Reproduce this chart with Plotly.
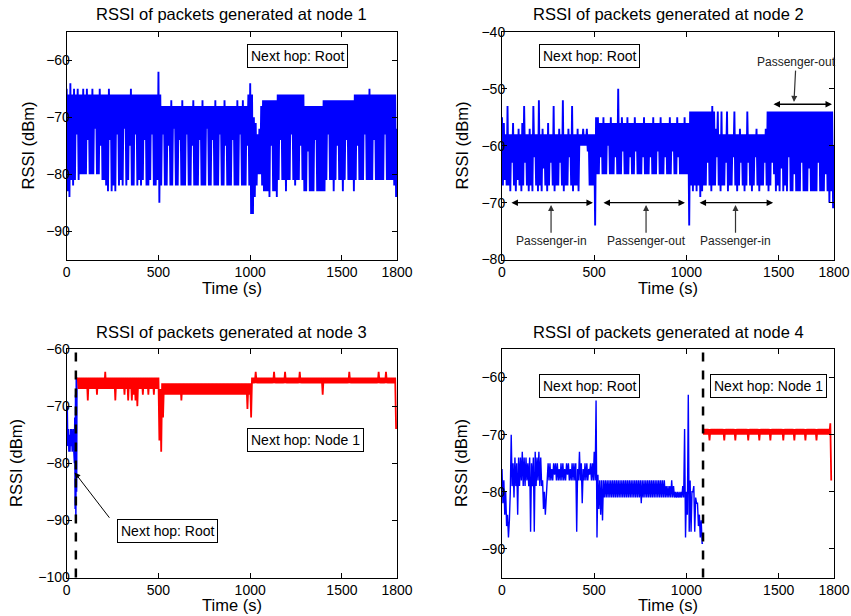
import plotly.graph_objects as go

FONT = "Liberation Sans, Arial, Helvetica, sans-serif"
BLUE = "#0000FF"
RED = "#FF0000"

# ---------------- data ----------------
# Each dense trace is given as, per 10-s bin, the upper reading (at t) and the
# lower reading (at t+5 s) -- the packets alternate between these levels.
bin_start_full = list(range(0, 1800, 10))          # 180 bins, node 1 & 2

node1_upper = [
    -65, -66, -64, -66, -65, -66, -65, -66, -66, -65,
    -66, -65, -66, -66, -65, -66, -66, -66, -65, -66,
    -66, -66, -66, -65, -66, -66, -66, -66, -66, -66,
    -66, -66, -66, -66, -66, -65, -66, -66, -66, -66,
    -66, -66, -66, -66, -66, -66, -66, -66, -66, -66,
    -62, -66, -68, -68, -68, -68, -68, -67, -68, -68,
    -68, -68, -68, -67, -68, -68, -68, -68, -68, -67,
    -68, -68, -68, -68, -67, -68, -68, -68, -68, -68,
    -68, -67, -68, -68, -68, -68, -67, -68, -68, -68,
    -68, -68, -68, -67, -68, -68, -67, -68, -68, -66,
    -64, -66, -70, -71, -73, -72, -68, -67, -67, -67,
    -67, -67, -67, -67, -67, -66, -66, -66, -66, -66,
    -66, -66, -66, -66, -66, -66, -66, -66, -66, -66,
    -68, -68, -68, -68, -68, -68, -68, -68, -68, -68,
    -67, -67, -67, -67, -67, -67, -67, -67, -67, -67,
    -67, -67, -67, -67, -67, -67, -67, -66, -66, -66,
    -66, -66, -66, -66, -66, -65, -66, -66, -66, -66,
    -66, -66, -66, -66, -66, -66, -66, -66, -66, -66,
]
node1_lower = [
    -83, -84, -81, -82, -81, -73, -81, -80, -80, -80,
    -80, -74, -80, -80, -80, -72, -80, -80, -75, -81,
    -81, -82, -83, -74, -83, -82, -83, -73, -82, -81,
    -82, -72, -82, -81, -75, -82, -82, -73, -82, -81,
    -82, -81, -74, -82, -82, -81, -73, -82, -82, -81,
    -85, -82, -73, -82, -82, -75, -82, -82, -72, -82,
    -82, -74, -82, -82, -82, -73, -82, -82, -75, -82,
    -82, -82, -74, -82, -82, -82, -72, -82, -82, -74,
    -82, -82, -82, -73, -82, -82, -75, -82, -82, -82,
    -74, -82, -82, -82, -73, -82, -82, -82, -75, -82,
    -87, -87, -84, -82, -80, -80, -82, -83, -83, -83,
    -84, -75, -83, -83, -84, -81, -74, -81, -81, -83,
    -81, -81, -73, -81, -82, -81, -81, -75, -81, -83,
    -83, -76, -83, -83, -83, -74, -83, -83, -83, -83,
    -83, -81, -73, -81, -81, -83, -81, -75, -81, -81,
    -83, -81, -74, -81, -81, -81, -83, -81, -75, -81,
    -81, -81, -73, -81, -81, -81, -81, -74, -81, -81,
    -81, -81, -81, -73, -81, -81, -81, -81, -82, -84,
]
node1_final = -72

node2_upper = [
    -55, -56, -58, -53, -58, -58, -56, -58, -58, -57,
    -58, -56, -53, -58, -58, -57, -58, -53, -58, -58,
    -52, -58, -57, -58, -58, -56, -58, -58, -53, -58,
    -58, -57, -58, -52, -58, -58, -57, -58, -53, -58,
    -58, -57, -58, -58, -57, -58, -57, -58, -58, -58,
    -58, -55, -55, -56, -56, -55, -56, -56, -56, -55,
    -56, -56, -56, -50, -56, -55, -56, -56, -55, -56,
    -56, -56, -55, -56, -56, -56, -56, -55, -56, -56,
    -56, -56, -55, -56, -56, -56, -55, -56, -56, -56,
    -56, -55, -56, -56, -56, -55, -56, -56, -56, -55,
    -56, -56, -54, -54, -54, -54, -54, -54, -54, -54,
    -54, -54, -54, -54, -53, -54, -57, -54, -58, -54,
    -58, -58, -54, -58, -58, -58, -54, -58, -58, -57,
    -58, -58, -58, -54, -58, -58, -58, -58, -57, -58,
    -58, -58, -58, -57, -54, -54, -54, -54, -54, -54,
    -54, -54, -54, -54, -54, -54, -54, -54, -54, -54,
    -54, -54, -54, -54, -54, -54, -54, -54, -54, -54,
    -54, -54, -54, -54, -54, -54, -54, -54, -54, -54,
]
node2_lower = [
    -67, -66, -67, -67, -68, -63, -67, -68, -66, -67,
    -68, -67, -63, -67, -68, -67, -68, -62, -67, -68,
    -67, -68, -64, -67, -68, -67, -63, -67, -68, -67,
    -67, -63, -67, -68, -67, -67, -62, -67, -68, -67,
    -67, -68, -60, -60, -60, -60, -61, -67, -67, -67,
    -74, -65, -65, -62, -65, -65, -65, -60, -65, -65,
    -65, -62, -65, -65, -65, -61, -65, -65, -65, -62,
    -65, -65, -61, -65, -65, -65, -62, -65, -65, -65,
    -62, -65, -65, -65, -61, -65, -65, -65, -62, -65,
    -65, -65, -61, -65, -65, -62, -65, -65, -65, -65,
    -65, -74, -67, -68, -67, -68, -67, -69, -68, -67,
    -67, -63, -67, -68, -67, -67, -62, -67, -68, -67,
    -67, -63, -68, -67, -67, -62, -67, -68, -67, -63,
    -67, -68, -67, -63, -67, -68, -67, -62, -67, -68,
    -67, -67, -63, -67, -68, -67, -63, -65, -68, -67,
    -68, -64, -68, -67, -68, -62, -68, -68, -65, -68,
    -68, -68, -63, -68, -68, -68, -64, -68, -68, -68,
    -68, -63, -68, -68, -68, -65, -68, -70, -68, -71,
]
node2_final = -60

node3_root_time = [0, 3, 6, 9, 12, 15, 18, 21, 24, 27, 30, 33, 36, 39,
                   42, 44, 46, 48, 50, 52, 54, 56]
node3_root_rssi = [-76, -70, -77, -74, -78, -75, -78, -74, -77, -74, -78, -76, -74, -78,
                   -80, -72, -88, -68, -90, -65, -85, -65]

bin_start_node3 = list(range(60, 1800, 10))        # 174 bins
node3_upper = [
    -65, -65, -65, -65,
    -65, -65, -65, -65, -65, -65, -65, -65, -65, -65,
    -65, -64, -65, -65, -65, -65, -65, -65, -65, -65,
    -65, -65, -65, -65, -65, -65, -65, -65, -65, -65,
    -65, -65, -65, -65, -65, -65, -65, -65, -65, -65,
    -65, -67, -66, -66, -66, -66, -66, -66, -66, -66,
    -66, -66, -66, -66, -66, -66, -66, -66, -66, -66,
    -66, -66, -66, -66, -66, -66, -66, -66, -66, -66,
    -66, -66, -66, -66, -66, -66, -66, -66, -66, -66,
    -66, -66, -66, -66, -66, -66, -66, -66, -66, -66,
    -66, -65, -65, -64, -65, -65, -65, -65, -65, -65,
    -65, -65, -65, -64, -65, -65, -65, -65, -65, -64,
    -65, -65, -65, -65, -65, -65, -65, -64, -65, -65,
    -65, -65, -65, -65, -65, -65, -65, -65, -65, -65,
    -65, -65, -65, -65, -65, -65, -65, -65, -65, -65,
    -65, -65, -65, -65, -64, -65, -65, -65, -65, -65,
    -65, -65, -65, -65, -65, -65, -65, -65, -65, -65,
    -64, -65, -65, -65, -64, -65, -65, -65, -65, -65,
]
node3_lower = [
    -67, -67, -67, -67,
    -67, -69, -67, -67, -67, -67, -68, -67, -67, -67,
    -67, -67, -67, -67, -67, -67, -69, -67, -67, -67,
    -67, -68, -67, -69, -67, -69, -68, -69, -70, -67,
    -67, -68, -67, -67, -68, -67, -67, -68, -67, -67,
    -76, -78, -72, -68, -68, -68, -68, -68, -68, -68,
    -68, -68, -69, -68, -68, -68, -68, -68, -68, -68,
    -68, -68, -68, -68, -68, -68, -68, -68, -68, -68,
    -68, -68, -68, -68, -68, -68, -68, -68, -68, -68,
    -68, -68, -68, -68, -68, -68, -68, -68, -70.5, -68,
    -72, -66, -66, -66, -66, -66, -66, -66, -66, -66,
    -66, -66, -66, -66, -66, -66, -66, -66, -66, -66,
    -66, -66, -66, -66, -66, -66, -66, -66, -66, -66,
    -66, -66, -66, -66, -66, -66, -66, -66, -66, -68,
    -66, -66, -66, -66, -66, -66, -66, -66, -66, -66,
    -66, -66, -66, -66, -66, -66, -66, -66, -66, -66,
    -66, -66, -66, -66, -66, -66, -66, -66, -66, -66,
    -66, -66, -66, -66, -66, -66, -66, -66, -66, -74,
]

bin_start_node4_root = list(range(0, 1090, 10))    # 109 bins
node4_root_upper = [
    -76, -78, -80, -84, -85, -70, -75, -74, -75, -74,
    -74, -73, -74, -74, -75, -74, -75, -74, -73, -74,
    -73, -74, -78, -80, -81, -75, -75, -76, -75, -75,
    -75, -76, -75, -75, -76, -75, -75, -76, -75, -75,
    -75, -76, -73, -75, -76, -75, -75, -76, -75, -75,
    -73, -64, -77, -78, -78, -78, -78, -78, -78, -78,
    -78, -78, -78, -78, -78, -78, -78, -78, -78, -78,
    -78, -78, -78, -78, -78, -78, -78, -78, -78, -78,
    -78, -78, -78, -78, -78, -78, -78, -78, -78, -79,
    -79, -79, -78, -79, -80, -80, -80, -80, -79, -69,
    -80, -63, -78, -80, -79, -81, -82, -84, -85,
]
node4_root_lower = [
    -82, -84, -86, -88, -80, -79, -81, -79, -84, -79,
    -78, -79, -79, -78, -79, -87, -79, -87, -79, -78,
    -79, -79, -83, -84, -78, -78, -78, -78, -77, -78,
    -78, -78, -78, -78, -78, -77, -78, -78, -78, -78,
    -87, -78, -78, -82, -78, -78, -78, -77, -78, -78,
    -78, -88, -83, -84, -85, -81, -81, -81, -81, -81,
    -81, -81, -81, -81, -81, -81, -81, -81, -81, -81,
    -81, -81, -81, -81, -81, -82, -81, -81, -81, -81,
    -81, -81, -81, -81, -81, -81, -81, -81, -81, -81,
    -81, -81, -81, -81, -81, -81, -81, -81, -81, -88,
    -84, -87, -87, -80, -87, -82, -86, -88, -89,
]
node4_root_final = -89

bin_start_node4_node1 = list(range(1090, 1790, 10))  # 70 bins
node4_node1_upper = [
    -69, -69, -69, -69, -69, -69, -69, -69, -69, -69,
    -69, -69, -69, -69, -69, -69, -69, -69, -69, -69,
    -69, -69, -69, -69, -69, -69, -69, -69, -69, -69,
    -69, -69, -69, -69, -69, -69, -69, -69, -69, -69,
    -69, -69, -69, -69, -69, -69, -69, -69, -69, -69,
    -69, -69, -69, -69, -69, -69, -69, -69, -69, -69,
    -69, -69, -69, -69, -69, -69, -69, -69, -69, -68,
]
node4_node1_lower = [
    -70, -70, -70, -71, -70, -70, -70, -70, -70, -70,
    -70, -71, -70, -70, -70, -70, -70, -71, -70, -70,
    -70, -70, -70, -70, -71, -70, -70, -70, -70, -70,
    -71, -70, -70, -70, -70, -70, -71, -70, -70, -70,
    -70, -70, -70, -71, -70, -70, -70, -70, -70, -71,
    -70, -70, -70, -70, -70, -71, -70, -70, -70, -70,
    -70, -71, -70, -70, -70, -70, -70, -70, -70, -78,
]

switch_time_node3 = 50
switch_time_node4 = 1090

x_ticks = [0, 500, 1000, 1500, 1800]
y_ranges = {1: [-95, -55], 2: [-80, -40], 3: [-100, -60], 4: [-95, -55]}
y_ticks = {1: [-90, -80, -70, -60], 2: [-80, -70, -60, -50, -40],
           3: [-100, -90, -80, -70, -60], 4: [-90, -80, -70, -60]}


def packet_series(starts, upper, lower, final=None):
    """Readings in packet order: upper reading at t, lower reading at t+5."""
    xs, ys = [], []
    for t, u, l in zip(starts, upper, lower):
        xs += [t, t + 5]
        ys += [u, l]
    if final is not None:
        xs.append(starts[-1] + 10)
        ys.append(final)
    return xs, ys


# ---------------- figure ----------------
W, H = 851, 616
fig = go.Figure()


def line(x, y, color, k, w):
    sfx = "" if k == 1 else str(k)
    fig.add_trace(go.Scatter(x=x, y=y, mode="lines", line=dict(color=color, width=w),
                             xaxis="x" + sfx, yaxis="y" + sfx, showlegend=False,
                             hoverinfo="skip"))


line(*packet_series(bin_start_full, node1_upper, node1_lower, node1_final), BLUE, 1, 1.9)
line(*packet_series(bin_start_full, node2_upper, node2_lower, node2_final), BLUE, 2, 1.9)
line(node3_root_time, node3_root_rssi, BLUE, 3, 1.5)
line(*packet_series(bin_start_node3, node3_upper, node3_lower), RED, 3, 1.8)
line(*packet_series(bin_start_node4_root, node4_root_upper, node4_root_lower, node4_root_final),
     BLUE, 4, 1.4)
line(*packet_series(bin_start_node4_node1, node4_node1_upper, node4_node1_lower), RED, 4, 1.8)

xdom = {1: [66.7 / W, 397 / W], 2: [502 / W, 834 / W], 3: [66.7 / W, 397 / W], 4: [502 / W, 834 / W]}
ydom = {1: [1 - 259.5 / H, 1 - 32 / H], 2: [1 - 259.5 / H, 1 - 32 / H],
        3: [1 - 577.5 / H, 1 - 349 / H], 4: [1 - 577.5 / H, 1 - 349 / H]}

axis_common = dict(showline=True, linecolor="black", linewidth=1, mirror="ticks",
                   ticks="inside", ticklen=5, tickcolor="black", tickwidth=1,
                   showgrid=False, zeroline=False, automargin=False,
                   tickfont=dict(family=FONT, size=14, color="black"))

layout = dict(width=W, height=H, margin=dict(l=0, r=0, t=0, b=0),
              paper_bgcolor="white", plot_bgcolor="white", showlegend=False)
for k in range(1, 5):
    sfx = "" if k == 1 else str(k)
    layout["xaxis" + sfx] = dict(domain=xdom[k], range=[0, 1800], tickmode="array",
                                 tickvals=x_ticks, anchor="y" + sfx, **axis_common)
    layout["yaxis" + sfx] = dict(domain=ydom[k], range=y_ranges[k], tickmode="array",
                                 tickvals=y_ticks[k], anchor="x" + sfx,
                                 ticklabelstandoff=-7, **axis_common)
fig.update_layout(**layout)

# dashed switch lines
fig.add_shape(type="line", xref="x3", yref="y3 domain", x0=switch_time_node3, x1=switch_time_node3,
              y0=0, y1=1, line=dict(color="black", width=2.5, dash="dash"))
fig.add_shape(type="line", xref="x4", yref="y4 domain", x0=switch_time_node4, x1=switch_time_node4,
              y0=0, y1=1, line=dict(color="black", width=2.5, dash="dash"))

ann = []
titles = ["RSSI of packets generated at node %d" % i for i in range(1, 5)]
tpos = [(232, 14), (668, 14), (232, 332), (668, 332)]
for txt, (px, py) in zip(titles, tpos):
    ann.append(dict(text=txt, x=px / W, y=1 - py / H, xref="paper", yref="paper",
                    showarrow=False, xanchor="center", yanchor="middle",
                    font=dict(family=FONT, size=16.5, color="black")))
for px, py in [(232, 287.5), (668, 287.5), (232, 605), (668, 605)]:
    ann.append(dict(text="Time (s)", x=px / W, y=1 - py / H, xref="paper", yref="paper",
                    showarrow=False, xanchor="center", yanchor="middle",
                    font=dict(family=FONT, size=16.5, color="black")))
for px, py in [(27, 145.5), (461, 145.5), (16, 463), (461, 463)]:
    ann.append(dict(text="RSSI (dBm)", x=px / W, y=1 - py / H, xref="paper", yref="paper",
                    showarrow=False, xanchor="center", yanchor="middle", textangle=-90,
                    font=dict(family=FONT, size=16.5, color="black")))


def box(text, x, y, k):
    sfx = "" if k == 1 else str(k)
    ann.append(dict(text=text, x=x, y=y, xref="x" + sfx, yref="y" + sfx, showarrow=False,
                    bordercolor="black", borderwidth=1, borderpad=3, bgcolor="white",
                    font=dict(family=FONT, size=14, color="black")))


box("Next hop: Root", 1257, -59.2, 1)
box("Next hop: Root", 477, -44.2, 2)
box("Next hop: Node 1", 1302, -76.0, 3)
box("Next hop: Root", 549, -91.8, 3)
box("Next hop: Root", 477, -61.5, 4)
box("Next hop: Node 1", 1445, -61.5, 4)

for x0, x1, yy in [(43, 493, -70), (542, 992, -70), (1063, 1470, -70), (1464, 1789, -52.7)]:
    ann.append(dict(text="", x=x1, y=yy, ax=x0, ay=yy, xref="x2", yref="y2", axref="x2", ayref="y2",
                    showarrow=True, arrowhead=2, arrowside="end+start", arrowsize=1,
                    arrowwidth=1.3, arrowcolor="black"))
for txt, xt, yt, xh, yh in [("Passenger-in", 266, -76.8, 266, -70.4),
                            ("Passenger-out", 781, -76.8, 781, -70.4),
                            ("Passenger-in", 1266, -76.8, 1266, -70.4),
                            ("Passenger-out", 1594, -45.3, 1583, -52.3)]:
    ann.append(dict(text=txt, x=xh, y=yh, ax=xt, ay=yt, xref="x2", yref="y2", axref="x2", ayref="y2",
                    showarrow=True, arrowhead=2, arrowsize=1, arrowwidth=1.2, arrowcolor="#333",
                    font=dict(family=FONT, size=12, color="#222")))
ann.append(dict(text="", x=43, y=-81.6, ax=239, ay=-89.8, xref="x3", yref="y3", axref="x3", ayref="y3",
                showarrow=True, arrowhead=2, arrowsize=1.2, arrowwidth=1, arrowcolor="black"))

fig.update_layout(annotations=ann)
fig.write_html("out.html", config={"displayModeBar": False},
               post_script="document.body.style.margin='0';document.body.style.padding='0';")
